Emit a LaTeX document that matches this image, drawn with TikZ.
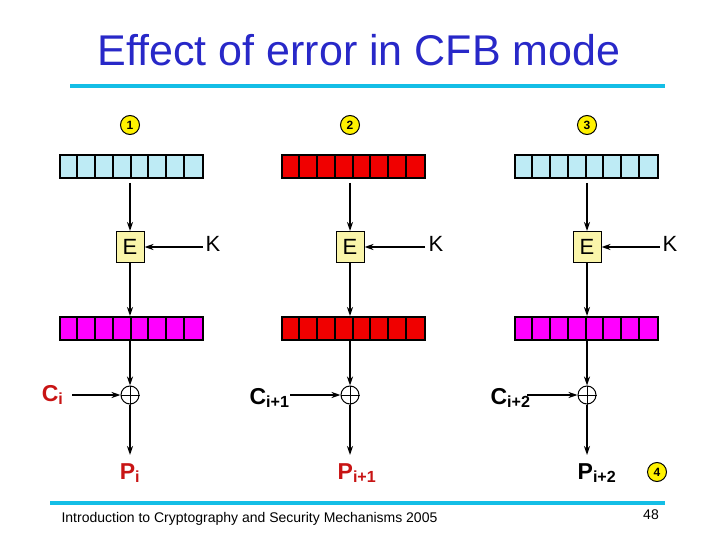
\documentclass[tikz,border=0pt]{standalone}
\usepackage{fontspec}
\setmainfont{Liberation Sans}
\usetikzlibrary{arrows.meta}
\definecolor{lb}{RGB}{190,235,245}
\definecolor{mag}{RGB}{255,0,255}
\definecolor{rd}{RGB}{240,0,0}
\definecolor{eb}{RGB}{250,245,170}
\definecolor{cy}{RGB}{20,190,230}
\definecolor{ttl}{RGB}{40,40,200}
\definecolor{lab}{RGB}{200,20,20}
\tikzset{
 reg/.style={draw,line width=2pt,minimum width=143pt,minimum height=23pt,inner sep=0pt},
 ebox/.style={draw,line width=1pt,fill=eb,minimum width=28pt,minimum height=31pt,inner sep=0pt,font=\fontsize{22}{22}\selectfont},
 xo/.style={draw,line width=1pt,circle,minimum size=18pt,inner sep=0pt},
 num/.style={draw,line width=1pt,circle,fill=yellow,minimum size=19pt,inner sep=0pt,font=\bfseries\fontsize{12}{12}\selectfont},
 kl/.style={font=\fontsize{22}{22}\selectfont},
 cl/.style={font=\bfseries\fontsize{23}{23}\selectfont},
 ar/.style={-{Stealth[length=9pt,width=6pt]},line width=1.6pt}
}
\newcommand{\cells}[1]{\foreach \k in {1,...,7}{\draw[line width=2pt] ([xshift=\k*143pt/8]#1.south west) -- ([xshift=\k*143pt/8]#1.north west);}}
\begin{document}
\begin{tikzpicture}[x=1pt,y=-1pt]
\useasboundingbox (0,0) rectangle (720,540);
\node[font=\fontsize{43}{43}\selectfont,text=ttl] (title) at (359,50) {Effect of error in CFB mode};
\draw[cy,line width=4pt] (70,86) -- (665,86);
\draw[cy,line width=4pt] (50,503) -- (665,503);
\node[font=\fontsize{14}{14}\selectfont,anchor=west] (foot) at (58,519) {Introduction to Cryptography and Security Mechanisms 2005};
\node[font=\fontsize{14}{14}\selectfont] (pg) at (651,515) {48};
\node[num] (n1) at (130,125) {1};
\node[num] (n2) at (350,125) {2};
\node[num] (n3) at (587,125) {3};
\node[num] (n4) at (657,472) {4};
\node[reg,fill=lb] (r1) at (131.5,166.5) {};
\node[reg,fill=rd] (r2) at (353.5,166.5) {};
\node[reg,fill=lb] (r3) at (586.5,166.5) {};
\node[reg,fill=mag] (s1) at (131.5,328) {};
\node[reg,fill=rd] (s2) at (353.5,328) {};
\node[reg,fill=mag] (s3) at (586.5,328) {};
\cells{r1}\cells{r2}\cells{r3}\cells{s1}\cells{s2}\cells{s3}
\node[ebox] (e1) at (130,247) {E};
\node[ebox] (e2) at (350,247) {E};
\node[ebox] (e3) at (587,247) {E};
\node[kl] (k1) at (213,244) {K};
\node[kl] (k2) at (436,244) {K};
\node[kl] (k3) at (670,244) {K};
\node[xo] (x1) at (130,395) {};
\node[xo] (x2) at (350,395) {};
\node[xo] (x3) at (587,395) {};
\foreach \x in {x1,x2,x3}{\draw[line width=1pt] (\x.north)--(\x.south) (\x.west)--(\x.east);}
\node[cl,text=lab,anchor=east] (c1) at (67,395) {C\textsubscript{i}};
\node[cl,anchor=east] (c2) at (293,398) {C\textsubscript{i+1}};
\node[cl,anchor=east] (c3) at (534,398) {C\textsubscript{i+2}};
\node[cl,text=lab] (p1) at (130,473) {P\textsubscript{i}};
\node[cl,text=lab] (p2) at (357,473) {P\textsubscript{i+1}};
\node[cl] (p3) at (597,473) {P\textsubscript{i+2}};
\foreach \i/\xx/\kx/\cx in {1/130/203/72,2/350/425/290,3/587/660/527}{
 \draw[ar] (\xx,183) -- (e\i.north);
 \draw[ar] (e\i.south) -- (\xx,316);
 \draw[ar] (\xx,340) -- (x\i.north);
 \draw[ar] (x\i.south) -- (\xx,455);
 \draw[ar] (\kx,247) -- (e\i.east);
 \draw[ar] (\cx,395) -- (x\i.west);
}
\end{tikzpicture}
\end{document}
